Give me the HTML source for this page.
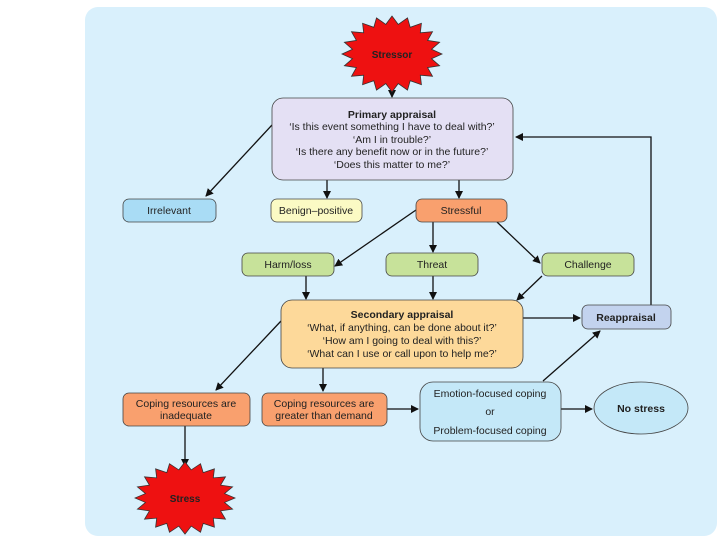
<!DOCTYPE html>
<html><head><meta charset="utf-8"><style>
html,body{margin:0;padding:0;background:#fff;width:720px;height:540px;overflow:hidden}
svg{display:block}
text{font-family:"Liberation Sans",sans-serif;font-size:10.5px;fill:#222;text-anchor:middle}
.b{font-weight:bold}
</style></head><body>
<svg width="720" height="540" viewBox="0 0 720 540" xmlns="http://www.w3.org/2000/svg">
<defs>
<marker id="a" markerWidth="8" markerHeight="8" refX="7" refY="4" orient="auto" markerUnits="userSpaceOnUse"><path d="M0,0 L8,4 L0,8 z" fill="#111"/></marker>
<polygon id="star" points="50,0 39.5,4.7 47.6,11.7 35.6,13.6 40.5,22.3 28.3,21.2 29.4,30.7 18.2,26.7 15.5,36.1 6.2,29.6 0,38 -6.2,29.6 -15.5,36.1 -18.2,26.7 -29.4,30.7 -28.3,21.2 -40.5,22.3 -35.6,13.6 -47.6,11.7 -39.5,4.7 -50,0 -39.5,-4.7 -47.6,-11.7 -35.6,-13.6 -40.5,-22.3 -28.3,-21.2 -29.4,-30.7 -18.2,-26.7 -15.5,-36.1 -6.2,-29.6 0,-38 6.2,-29.6 15.5,-36.1 18.2,-26.7 29.4,-30.7 28.3,-21.2 40.5,-22.3 35.6,-13.6 47.6,-11.7 39.5,-4.7" fill="#ee1111" stroke="#333" stroke-width="0.8"/>
</defs>
<rect x="85" y="7" width="632" height="529" rx="13" fill="#d9f0fc"/>

<!-- connectors -->
<g stroke="#111" stroke-width="1.3" fill="none" marker-end="url(#a)">
<line x1="392" y1="80" x2="392" y2="97"/>
<line x1="272" y1="125" x2="206" y2="196"/>
<line x1="327" y1="180" x2="327" y2="198"/>
<line x1="459" y1="180" x2="459" y2="198"/>
<line x1="416" y1="210" x2="335" y2="266"/>
<line x1="433" y1="222" x2="433" y2="252"/>
<line x1="497" y1="222" x2="540" y2="263"/>
<line x1="306" y1="276" x2="306" y2="299"/>
<line x1="433" y1="276" x2="433" y2="299"/>
<line x1="542" y1="276" x2="517" y2="300"/>
<polyline points="651,305 651,137 516,137"/>
<line x1="523" y1="318" x2="580" y2="318"/>
<line x1="281" y1="321" x2="216" y2="390"/>
<line x1="323" y1="368" x2="323" y2="391"/>
<line x1="387" y1="409" x2="418" y2="409"/>
<line x1="543" y1="381" x2="600" y2="331"/>
<line x1="561" y1="409" x2="592" y2="409"/>
<line x1="185" y1="426" x2="185" y2="466"/>
</g>

<!-- stars -->
<use href="#star" transform="translate(392,54)"/>
<text x="392" y="58" class="b" style="font-size:10px">Stressor</text>
<use href="#star" transform="translate(185,498) scale(1,0.95)"/>
<text x="185" y="502" class="b" style="font-size:10px">Stress</text>

<g stroke="#444" stroke-width="0.8">
<rect x="272" y="98" width="241" height="82" rx="11" fill="#e4e0f4"/>
<rect x="123" y="199" width="93" height="23" rx="6" fill="#a9dcf5"/>
<rect x="271" y="199" width="91" height="23" rx="6" fill="#fbfac4"/>
<rect x="416" y="199" width="91" height="23" rx="6" fill="#f9a06e"/>
<rect x="242" y="253" width="92" height="23" rx="6" fill="#c7e29a"/>
<rect x="386" y="253" width="92" height="23" rx="6" fill="#c7e29a"/>
<rect x="542" y="253" width="92" height="23" rx="6" fill="#c7e29a"/>
<rect x="281" y="300" width="242" height="68" rx="11" fill="#fdd99a"/>
<rect x="582" y="305" width="89" height="24" rx="6" fill="#c3d3ee"/>
<rect x="123" y="393" width="127" height="33" rx="6" fill="#f9a06e"/>
<rect x="262" y="393" width="125" height="33" rx="6" fill="#f9a06e"/>
<rect x="420" y="382" width="141" height="59" rx="13" fill="#c4e8f8"/>
<ellipse cx="641" cy="408" rx="47" ry="26" fill="#c4e8f8"/>
</g>

<text x="392" y="118" class="b">Primary appraisal</text>
<text x="392" y="130">‘Is this event something I have to deal with?’</text>
<text x="392" y="143">‘Am I in trouble?’</text>
<text x="392" y="155">‘Is there any benefit now or in the future?’</text>
<text x="392" y="168">‘Does this matter to me?’</text>

<text x="169" y="214">Irrelevant</text>
<text x="316" y="214">Benign–positive</text>
<text x="461" y="214">Stressful</text>
<text x="288" y="268">Harm/loss</text>
<text x="432" y="268">Threat</text>
<text x="588" y="268">Challenge</text>

<text x="402" y="318" class="b">Secondary appraisal</text>
<text x="402" y="331">‘What, if anything, can be done about it?’</text>
<text x="402" y="344">‘How am I going to deal with this?’</text>
<text x="402" y="357">‘What can I use or call upon to help me?’</text>

<text x="626" y="321" class="b">Reappraisal</text>
<text x="186" y="407">Coping resources are</text>
<text x="186" y="419">inadequate</text>
<text x="324" y="407">Coping resources are</text>
<text x="324" y="419">greater than demand</text>
<text x="490" y="397">Emotion-focused coping</text>
<text x="490" y="415">or</text>
<text x="490" y="434">Problem-focused coping</text>
<text x="641" y="412" class="b">No stress</text>
</svg>
</body></html>
